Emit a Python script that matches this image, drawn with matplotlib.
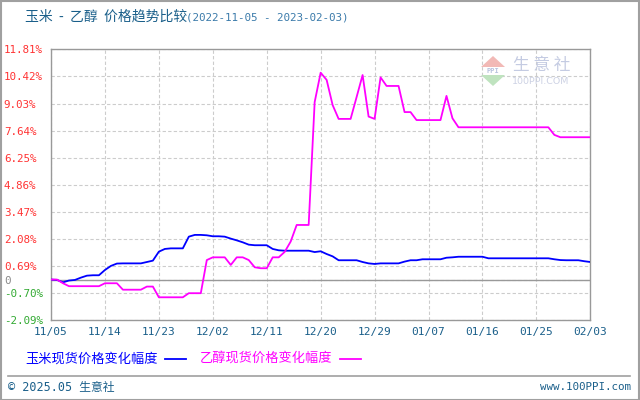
#!/usr/bin/env python3
"""玉米 - 乙醇 价格趋势比较 (2022-11-05 - 2023-02-03)"""
import numpy as np
import pandas as pd
import matplotlib
matplotlib.use("Agg")
import matplotlib.pyplot as plt
import matplotlib.dates as mdates
from matplotlib.patches import Polygon, Rectangle
from matplotlib.lines import Line2D

CJK = ["Noto Sans CJK SC", "DejaVu Sans"]
MONO = ["DejaVu Sans Mono", "Noto Sans CJK SC"]

dates = pd.date_range("2022-11-05", "2023-02-03", freq="D")

# 玉米现货价格变化幅度 (%)
corn = [0.00, -0.02, -0.14, -0.05, -0.02, 0.10, 0.20, 0.22, 0.22, 0.49,
        0.70, 0.82, 0.83, 0.83, 0.83, 0.83, 0.90, 0.97, 1.43, 1.57,
        1.60, 1.60, 1.60, 2.20, 2.29, 2.29, 2.27, 2.22, 2.22, 2.20,
        2.10, 2.01, 1.91, 1.79, 1.76, 1.76, 1.76, 1.57, 1.50, 1.48,
        1.48, 1.48, 1.48, 1.48, 1.41, 1.45, 1.31, 1.19, 0.99, 0.99,
        0.99, 0.99, 0.90, 0.83, 0.80, 0.83, 0.83, 0.83, 0.83, 0.92,
        0.99, 0.99, 1.04, 1.04, 1.04, 1.04, 1.12, 1.14, 1.17, 1.17,
        1.17, 1.17, 1.17, 1.09, 1.09, 1.09, 1.09, 1.09, 1.09, 1.09,
        1.09, 1.09, 1.09, 1.09, 1.04, 1.00, 0.99, 0.99, 0.99, 0.94,
        0.90]

# 乙醇现货价格变化幅度 (%)
ethanol = [0.00, 0.00, -0.19, -0.34, -0.34, -0.34, -0.34, -0.34, -0.34, -0.19,
           -0.19, -0.19, -0.52, -0.52, -0.52, -0.52, -0.36, -0.36, -0.91, -0.91,
           -0.91, -0.91, -0.91, -0.70, -0.70, -0.70, 1.00, 1.14, 1.14, 1.14,
           0.75, 1.14, 1.14, 1.00, 0.63, 0.58, 0.58, 1.14, 1.14, 1.42,
           1.95, 2.80, 2.80, 2.80, 9.10, 10.61, 10.24, 8.95, 8.24, 8.24,
           8.24, 9.36, 10.49, 8.36, 8.24, 10.37, 9.93, 9.93, 9.93, 8.59,
           8.59, 8.18, 8.18, 8.18, 8.18, 8.18, 9.42, 8.27, 7.81, 7.81,
           7.81, 7.81, 7.81, 7.81, 7.81, 7.81, 7.81, 7.81, 7.81, 7.81,
           7.81, 7.81, 7.81, 7.81, 7.42, 7.30, 7.30, 7.30, 7.30, 7.30,
           7.30]

y_ticks = [11.81, 10.42, 9.03, 7.64, 6.25, 4.86, 3.47, 2.08, 0.69, 0, -0.70, -2.09]
x_tick_dates = pd.date_range("2022-11-05", "2023-02-03", freq="9D")

W, H = 640, 400
fig = plt.figure(figsize=(6.4, 4.0), dpi=100, facecolor="white")

def px(x, y):
    return x / W, 1 - y / H

# figure border
fig.patches.append(Rectangle((0.001, 0.001), 0.997, 0.997, transform=fig.transFigure,
                             fill=False, edgecolor="#a0a0a0", linewidth=1.5))

ax = fig.add_axes([51 / W, 1 - 320.3 / H, (590.3 - 51) / W, (320.3 - 49.3) / H])
ax.set_facecolor("white")

# watermark
wm = "#c4cbe2"
fig.patches.append(Polygon([px(481, 67), px(493, 56), px(505, 67)], closed=True,
                           transform=fig.transFigure, facecolor="#f2b9b6", edgecolor="none", zorder=0))
fig.patches.append(Polygon([px(481, 75), px(493, 86), px(505, 75)], closed=True,
                           transform=fig.transFigure, facecolor="#bfe3bf", edgecolor="none", zorder=0))
fig.text(*px(493, 71), "PPI", fontsize=5, color="#b8c2de", ha="center", va="center",
         family=MONO, fontweight="bold")
fig.text(*px(542, 65.5), "生 意 社", fontsize=12, color=wm, ha="center", va="center", family=CJK)
fig.text(*px(541, 81), "100PPI.COM", fontsize=6.8, color="#cdd2e4", ha="center", va="center",
         family=["DejaVu Sans"])

ax.plot(dates, corn, color="#0000ff", linewidth=1.3, zorder=3)
ax.plot(dates, ethanol, color="#ff00ff", linewidth=1.3, zorder=3)

ax.set_ylim(-2.09, 11.81)
ax.set_xlim(dates[0], dates[-1])
ax.axhline(0, color="#999999", linewidth=1.0, zorder=2)

ax.set_yticks(y_ticks)
ax.set_yticklabels(["0" if v == 0 else f"{v:.2f}%" for v in y_ticks])
for lab, v in zip(ax.get_yticklabels(), y_ticks):
    lab.set_color("#ff3333" if v > 0 else ("#33aa33" if v < 0 else "#888888"))
    lab.set_horizontalalignment("left")
    lab.set_family(MONO)
    lab.set_fontsize(7.8)
ax.tick_params(axis="y", length=0, pad=34)

ax.set_xticks(x_tick_dates)
ax.xaxis.set_major_formatter(mdates.DateFormatter("%m/%d"))
ax.tick_params(axis="x", length=0, pad=5, labelsize=8, labelcolor="#1a5f8a")
for lab in ax.get_xticklabels():
    lab.set_family(MONO)

ax.grid(True, color="#cccccc", linestyle=(0, (3, 2)), linewidth=0.8)
ax.set_axisbelow(True)
for s in ax.spines.values():
    s.set_color("#999999")
    s.set_linewidth(1.0)

# title
fig.text(*px(25, 17), "玉米  -  乙醇  价格趋势比较", fontsize=10, color="#1a5f8a",
         ha="left", va="center", family=CJK)
fig.text(*px(186, 17), "(2022-11-05 - 2023-02-03)", fontsize=7.8, color="#3a7aaa",
         ha="left", va="center", family=MONO)

# legend
fig.text(*px(25, 359), "玉米现货价格变化幅度", fontsize=9.5, color="#0000ff",
         ha="left", va="center", family=CJK)
fig.lines.append(Line2D([165 / W, 186 / W], [1 - 359 / H] * 2, transform=fig.transFigure,
                        color="#0000ff", linewidth=1.3))
fig.text(*px(200, 359), "乙醇现货价格变化幅度", fontsize=9.5, color="#ff00ff",
         ha="left", va="center", family=CJK)
fig.lines.append(Line2D([340 / W, 361 / W], [1 - 359 / H] * 2, transform=fig.transFigure,
                        color="#ff00ff", linewidth=1.3))

# footer
fig.lines.append(Line2D([8 / W, 630 / W], [1 - 376 / H] * 2, transform=fig.transFigure,
                        color="#a0a0a0", linewidth=1.2))
fig.text(*px(8, 387), "© 2025.05 生意社", fontsize=8.5, color="#1a5f8a",
         ha="left", va="center", family=MONO)
fig.text(*px(631, 387), "www.100PPI.com", fontsize=7.8, color="#1a5f8a",
         ha="right", va="center", family=MONO)

fig.savefig("out.png", dpi=100, facecolor="white")
